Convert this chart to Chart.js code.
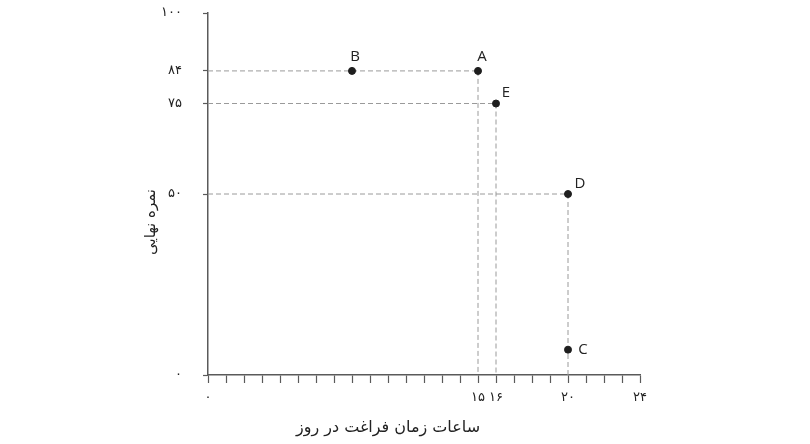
<!DOCTYPE html>
<html lang="fa">
<head>
  <meta charset="UTF-8">
  <title>نمره نهایی و ساعات فراغت</title>
  <style>
    html, body { margin: 0; padding: 0; background: #fff; }
    canvas { display: block; }
  </style>
</head>
<body>
  <canvas id="chart" width="810" height="444"></canvas>

  <script src="https://cdn.jsdelivr.net/npm/chart.js"></script>
  <script>
    // points
    const pointNames = ['A', 'B', 'C', 'D', 'E'];
    const hours = [15, 8, 20, 20, 16];
    const grades = [84, 84, 7, 50, 75];
    // which points get dashed guide lines to both axes
    const guidePoints = ['A', 'E', 'D'];

    const xTickValues = [0, 15, 16, 20, 24];
    const xTickLabels = ['۰', '۱۵', '۱۶', '۲۰', '۲۴'];
    const yTickValues = [0, 50, 75, 84, 100];
    const yTickLabels = ['۰', '۵۰', '۷۵', '۸۴', '۱۰۰'];

    const xTitle = 'ساعات زمان فراغت در روز';
    const yTitle = 'نمره نهایی';

    // label offsets from each point (px)
    const labelOffsets = {
      A: [4, -14], B: [3, -14], C: [15, 0], D: [12, -10], E: [10, -11]
    };

    const faFont = "'DejaVu Sans', sans-serif";
    const axisColor = '#5a5a5a';
    const guideColor = '#9a9a9a';

    const guideSets = [];
    guidePoints.forEach(name => {
      const i = pointNames.indexOf(name);
      const x = hours[i], y = grades[i];
      guideSets.push([{ x: 0, y: y }, { x: x, y: y }]);
      guideSets.push([{ x: x, y: y }, { x: x, y: 0 }]);
    });

    const datasets = guideSets.map(seg => ({
      type: 'line',
      data: seg,
      borderColor: guideColor,
      borderWidth: 1,
      borderDash: [5, 3],
      pointRadius: 0,
      fill: false,
      order: 2
    }));

    datasets.push({
      type: 'scatter',
      data: pointNames.map((n, i) => ({ x: hours[i], y: grades[i] })),
      backgroundColor: '#1e1e1e',
      borderColor: '#1e1e1e',
      pointRadius: 3.5,
      pointHoverRadius: 3.5,
      order: 1
    });

    const extras = {
      id: 'extras',
      afterDatasetsDraw(chart) {
        const ctx = chart.ctx;
        const meta = chart.getDatasetMeta(chart.data.datasets.length - 1);
        ctx.save();
        ctx.fillStyle = '#222';
        ctx.font = "15px 'Open Sans', sans-serif";
        ctx.textAlign = 'center';
        ctx.textBaseline = 'middle';
        meta.data.forEach((pt, i) => {
          const off = labelOffsets[pointNames[i]];
          ctx.fillText(pointNames[i], pt.x + off[0], pt.y + off[1]);
        });

        const area = chart.chartArea;
        ctx.fillStyle = '#222';
        ctx.font = '16px ' + faFont;
        ctx.direction = 'rtl';
        ctx.fillText(xTitle, area.left + 180, 428);

        ctx.font = '15px ' + faFont;
        ctx.translate(151, area.top + 209);
        ctx.rotate(-Math.PI / 2);
        ctx.fillText(yTitle, 0, 0);
        ctx.restore();
      }
    };

    new Chart(document.getElementById('chart'), {
      type: 'scatter',
      data: { datasets: datasets },
      options: {
        responsive: false,
        animation: false,
        layout: { padding: { left: 0, top: 13, right: 170, bottom: 0 } },
        plugins: {
          legend: { display: false },
          tooltip: { enabled: false }
        },
        scales: {
          x: {
            type: 'linear',
            min: 0,
            max: 24,
            afterFit: scale => {
              scale.height = 69;
              scale.paddingLeft = 0;
              scale.paddingRight = 0;
            },
            border: { color: axisColor, width: 1.5 },
            grid: {
              drawOnChartArea: false,
              drawTicks: true,
              tickLength: 8,
              tickColor: axisColor,
              tickWidth: 1.2
            },
            ticks: {
              stepSize: 1,
              autoSkip: false,
              maxRotation: 0,
              padding: 7,
              color: '#222',
              font: { family: faFont, size: 13 },
              callback: v => {
                const k = xTickValues.indexOf(v);
                return k >= 0 ? xTickLabels[k] : '';
              }
            }
          },
          y: {
            type: 'linear',
            min: 0,
            max: 100,
            afterFit: scale => {
              scale.width = 208;
              scale.paddingTop = 0;
              scale.paddingBottom = 0;
            },
            afterBuildTicks: scale => {
              scale.ticks = yTickValues.map(v => ({ value: v }));
            },
            border: { color: axisColor, width: 1.5 },
            grid: {
              drawOnChartArea: false,
              drawTicks: true,
              tickLength: 5,
              tickColor: axisColor,
              tickWidth: 1.2
            },
            ticks: {
              padding: 21,
              color: '#222',
              font: { family: faFont, size: 13 },
              callback: v => {
                const k = yTickValues.indexOf(v);
                return k >= 0 ? yTickLabels[k] : '';
              }
            }
          }
        }
      },
      plugins: [extras]
    });
  </script>
</body>
</html>
